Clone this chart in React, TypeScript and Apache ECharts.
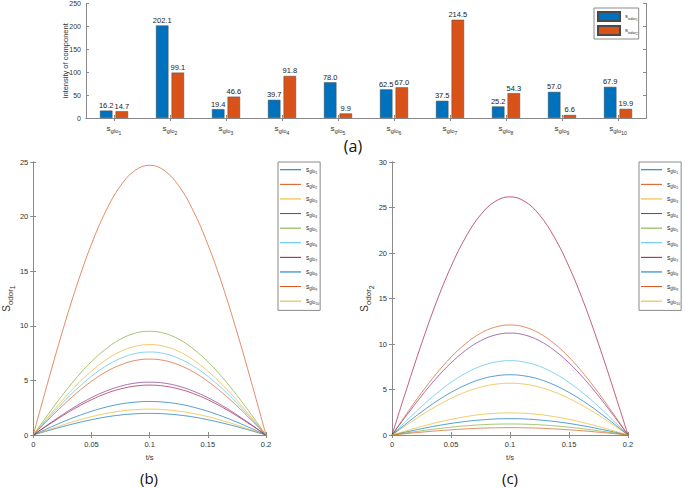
import React, { useEffect, useRef } from "react";
import * as echarts from "echarts";

const categories = ["sglo1", "sglo2", "sglo3", "sglo4", "sglo5", "sglo6", "sglo7", "sglo8", "sglo9", "sglo10"];
const odor1Values = [16.2, 202.1, 19.4, 39.7, 78.0, 62.5, 37.5, 25.2, 57.0, 67.9];
const odor2Values = [14.7, 99.1, 46.6, 91.8, 9.9, 67.0, 214.5, 54.3, 6.6, 19.9];

const tValues = [0, 0.0125, 0.025, 0.0375, 0.05, 0.0625, 0.075, 0.0875, 0.1, 0.1125, 0.125, 0.1375, 0.15, 0.1625, 0.175, 0.1875, 0.2];

// S_odor1 curves (panel b)
const b_glo1 = [0, 0.39, 0.76, 1.1, 1.4, 1.65, 1.83, 1.94, 1.98, 1.94, 1.83, 1.65, 1.4, 1.1, 0.76, 0.39, 0];
const b_glo2 = [0, 4.82, 9.45, 13.73, 17.46, 20.53, 22.82, 24.23, 24.7, 24.23, 22.82, 20.53, 17.46, 13.73, 9.45, 4.82, 0];
const b_glo3 = [0, 0.46, 0.91, 1.32, 1.68, 1.97, 2.19, 2.32, 2.37, 2.32, 2.19, 1.97, 1.68, 1.32, 0.91, 0.46, 0];
const b_glo4 = [0, 0.94, 1.85, 2.69, 3.42, 4.02, 4.47, 4.75, 4.84, 4.75, 4.47, 4.02, 3.42, 2.69, 1.85, 0.94, 0];
const b_glo5 = [0, 1.85, 3.64, 5.28, 6.72, 7.89, 8.78, 9.32, 9.5, 9.32, 8.78, 7.89, 6.72, 5.28, 3.64, 1.85, 0];
const b_glo6 = [0, 1.48, 2.91, 4.23, 5.37, 6.32, 7.02, 7.46, 7.6, 7.46, 7.02, 6.32, 5.37, 4.23, 2.91, 1.48, 0];
const b_glo7 = [0, 0.89, 1.75, 2.54, 3.23, 3.8, 4.22, 4.48, 4.57, 4.48, 4.22, 3.8, 3.23, 2.54, 1.75, 0.89, 0];
const b_glo8 = [0, 0.6, 1.18, 1.71, 2.17, 2.55, 2.84, 3.01, 3.07, 3.01, 2.84, 2.55, 2.17, 1.71, 1.18, 0.6, 0];
const b_glo9 = [0, 1.36, 2.66, 3.86, 4.91, 5.78, 6.42, 6.82, 6.95, 6.82, 6.42, 5.78, 4.91, 3.86, 2.66, 1.36, 0];
const b_glo10 = [0, 1.61, 3.17, 4.6, 5.85, 6.88, 7.65, 8.12, 8.28, 8.12, 7.65, 6.88, 5.85, 4.6, 3.17, 1.61, 0];

// S_odor2 curves (panel c)
const c_glo1 = [0, 0.35, 0.69, 1.0, 1.27, 1.49, 1.65, 1.76, 1.79, 1.76, 1.65, 1.49, 1.27, 1.0, 0.69, 0.35, 0];
const c_glo2 = [0, 2.36, 4.63, 6.72, 8.55, 10.05, 11.17, 11.86, 12.09, 11.86, 11.17, 10.05, 8.55, 6.72, 4.63, 2.36, 0];
const c_glo3 = [0, 1.11, 2.18, 3.16, 4.02, 4.73, 5.26, 5.58, 5.69, 5.58, 5.26, 4.73, 4.02, 3.16, 2.18, 1.11, 0];
const c_glo4 = [0, 2.18, 4.29, 6.23, 7.92, 9.31, 10.35, 10.99, 11.2, 10.99, 10.35, 9.31, 7.92, 6.23, 4.29, 2.18, 0];
const c_glo5 = [0, 0.24, 0.46, 0.67, 0.86, 1.01, 1.12, 1.19, 1.21, 1.19, 1.12, 1.01, 0.86, 0.67, 0.46, 0.24, 0];
const c_glo6 = [0, 1.59, 3.13, 4.54, 5.78, 6.79, 7.55, 8.01, 8.17, 8.01, 7.55, 6.79, 5.78, 4.54, 3.13, 1.59, 0];
const c_glo7 = [0, 5.1, 10.02, 14.55, 18.5, 21.75, 24.18, 25.67, 26.17, 25.67, 24.18, 21.75, 18.5, 14.55, 10.02, 5.1, 0];
const c_glo8 = [0, 1.29, 2.54, 3.68, 4.68, 5.5, 6.12, 6.49, 6.62, 6.49, 6.12, 5.5, 4.68, 3.68, 2.54, 1.29, 0];
const c_glo9 = [0, 0.16, 0.31, 0.45, 0.57, 0.67, 0.75, 0.79, 0.81, 0.79, 0.75, 0.67, 0.57, 0.45, 0.31, 0.16, 0];
const c_glo10 = [0, 0.47, 0.93, 1.35, 1.72, 2.02, 2.25, 2.38, 2.43, 2.38, 2.25, 2.02, 1.72, 1.35, 0.93, 0.47, 0];

const bCurves = [b_glo1, b_glo2, b_glo3, b_glo4, b_glo5, b_glo6, b_glo7, b_glo8, b_glo9, b_glo10];
const cCurves = [c_glo1, c_glo2, c_glo3, c_glo4, c_glo5, c_glo6, c_glo7, c_glo8, c_glo9, c_glo10];

const yTicksA = [0, 250, 50];
const yTicksB = [0, 25, 5];
const yTicksC = [0, 30, 5];
const xTicksT = [0, 0.2, 0.05];

const lineColors = ["#0072BD", "#D95319", "#EDB120", "#7E2F8E", "#77AC30", "#4DBEEE", "#A2142F", "#0072BD", "#D95319", "#EDB120"];

const FONT = "Liberation Sans";
const AXIS_COLOR = "#8a8a8a";
const TEXT_COLOR = "#333";

const subRich = (base: number) => ({
  b: { fontSize: base, fontFamily: FONT, color: TEXT_COLOR, verticalAlign: "top", lineHeight: base + 1 },
  s: { fontSize: base - 2, fontFamily: FONT, color: TEXT_COLOR, verticalAlign: "top", lineHeight: base - 1, padding: [Math.round(base * 0.45), 0, 0, 0] },
  ss: { fontSize: base - 3, fontFamily: FONT, color: TEXT_COLOR, verticalAlign: "top", lineHeight: base - 2, padding: [Math.round(base * 0.8), 0, 0, 0] },
});

const fmtSub = (main: string, sub: string, idx: string) => `{b|${main}}{s|${sub}}{ss|${idx}}`;

export default function App() {
  const ref = useRef<HTMLDivElement>(null);
  useEffect(() => {
    document.body.style.margin = "0";
    if (!ref.current) return;
    const chart = echarts.init(ref.current, null, { renderer: "svg" });

    const grids = [
      { left: 86, top: 3, width: 560, height: 115 },
      { left: 31, top: 162, width: 235, height: 273 },
      { left: 392, top: 162, width: 236, height: 273 },
    ];

    const axisLine = { show: true, lineStyle: { color: AXIS_COLOR, width: 1 } };
    const tickIn = { show: true, inside: true, length: 3, lineStyle: { color: AXIS_COLOR } };
    const lbl = { fontSize: 7.5, fontFamily: FONT, color: TEXT_COLOR };

    const xAxes: any[] = [
      {
        type: "category", gridIndex: 0, data: categories, position: "bottom",
        axisLine, axisTick: { ...tickIn, alignWithLabel: true, interval: 0 },
        axisLabel: { margin: 6, interval: 0, formatter: (v: string) => fmtSub("s", "glo", v.replace("sglo", "")), rich: subRich(8) },
        splitLine: { show: false },
      },
      {
        type: "category", gridIndex: 0, data: categories, position: "top",
        axisLine, axisTick: { ...tickIn, alignWithLabel: true, interval: 0 }, axisLabel: { show: false }, splitLine: { show: false },
      },
    ];
    const yAxes: any[] = [
      {
        type: "value", gridIndex: 0, min: yTicksA[0], max: yTicksA[1], interval: yTicksA[2], position: "left",
        axisLine, axisTick: tickIn, axisLabel: { ...lbl, fontSize: 7, margin: 5 }, splitLine: { show: false },
        name: "intensity of component", nameLocation: "middle", nameGap: 17, nameRotate: 90, nameMoveOverlap: false,
        nameTextStyle: { fontSize: 7.5, fontFamily: FONT, color: TEXT_COLOR },
      },
      {
        type: "value", gridIndex: 0, min: yTicksA[0], max: yTicksA[1], interval: yTicksA[2], position: "right",
        axisLine, axisTick: tickIn, axisLabel: { show: false }, splitLine: { show: false },
      },
    ];

    [1, 2].forEach((g, k) => {
      const yT = k === 0 ? yTicksB : yTicksC;
      xAxes.push({
        type: "value", gridIndex: g, min: xTicksT[0], max: xTicksT[1], interval: xTicksT[2], position: "bottom",
        axisLine, axisTick: tickIn, axisLabel: { ...lbl, margin: 5 }, splitLine: { show: false },
        name: "t/s", nameLocation: "middle", nameGap: 18, nameTextStyle: { fontSize: 7.5, fontFamily: FONT, color: TEXT_COLOR },
      });
      xAxes.push({
        type: "value", gridIndex: g, min: xTicksT[0], max: xTicksT[1], interval: xTicksT[2], position: "top",
        axisLine, axisTick: tickIn, axisLabel: { show: false }, splitLine: { show: false },
      });
      yAxes.push({
        type: "value", gridIndex: g, min: yT[0], max: yT[1], interval: yT[2], position: "left",
        axisLine, axisTick: tickIn, axisLabel: { ...lbl, margin: 5 }, splitLine: { show: false },
        name: fmtSub("S", "odor", String(k + 1)), nameLocation: "middle", nameGap: k === 0 ? 17 : 19, nameRotate: 90,
        nameTextStyle: { rich: subRich(10) },
      });
      yAxes.push({
        type: "value", gridIndex: g, min: yT[0], max: yT[1], interval: yT[2], position: "right",
        axisLine, axisTick: tickIn, axisLabel: { show: false }, splitLine: { show: false },
      });
    });

    const barLabel = {
      show: true, position: "top", distance: 1, fontSize: 7.5, fontFamily: FONT, color: "#222",
      formatter: (p: any) => Number(p.value).toFixed(1),
    };

    const series: any[] = [
      {
        name: "odor1", type: "bar", xAxisIndex: 0, yAxisIndex: 0, data: odor1Values,
        barWidth: 12.5, barGap: "25%",
        itemStyle: { color: "#0072BD", borderColor: "#4a4a4a", borderWidth: 0.5 }, label: barLabel,
      },
      {
        name: "odor2", type: "bar", xAxisIndex: 0, yAxisIndex: 0, data: odor2Values,
        barWidth: 12.5, barGap: "25%",
        itemStyle: { color: "#D95319", borderColor: "#4a4a4a", borderWidth: 0.5 }, label: barLabel,
      },
    ];

    [bCurves, cCurves].forEach((curves, k) => {
      curves.forEach((arr, i) => {
        series.push({
          name: categories[i], type: "line", xAxisIndex: 2 + k * 2, yAxisIndex: 2 + k * 2,
          data: tValues.map((t, j) => [t, arr[j]]), smooth: 0.4, symbol: "none",
          lineStyle: { color: lineColors[i], width: 0.9, opacity: 0.75 }, itemStyle: { color: lineColors[i] },
        });
      });
    });

    const legendBase = {
      orient: "vertical", borderColor: "#8a8a8a", borderWidth: 1, backgroundColor: "#fff",
      borderRadius: 0, selectedMode: false,
    };

    chart.setOption({
      animation: false,
      backgroundColor: "#fff",
      grid: grids,
      xAxis: xAxes,
      yAxis: yAxes,
      series,
      legend: [
        {
          ...legendBase, left: 594, top: 8, padding: [3, 1, 3, 3], itemGap: 3,
          itemWidth: 22, itemHeight: 9, icon: "rect",
          data: ["odor1", "odor2"],
          formatter: (n: string) => fmtSub("s", "odor", n.replace("odor", "")),
          textStyle: { rich: subRich(6) },
        },
        {
          ...legendBase, left: 278, top: 162, padding: [4, 1, 4, 2], itemGap: 5.6,
          itemWidth: 21, itemHeight: 1, icon: "rect",
          data: categories,
          formatter: (n: string) => fmtSub("s", "glo", n.replace("sglo", "")),
          textStyle: { rich: subRich(6.5) },
        },
        {
          ...legendBase, left: 639, top: 162, padding: [4, 1, 4, 2], itemGap: 5.6,
          itemWidth: 21, itemHeight: 1, icon: "rect",
          data: categories,
          formatter: (n: string) => fmtSub("s", "glo", n.replace("sglo", "")),
          textStyle: { rich: subRich(6.5) },
        },
      ],
      graphic: [
        { type: "text", x: 353, y: 146, style: { text: "(a)", fontSize: 16, fontFamily: "Open Sans", fill: "#111", align: "center", verticalAlign: "middle" } },
        { type: "text", x: 149, y: 478, style: { text: "(b)", fontSize: 15, fontFamily: "Open Sans", fill: "#111", align: "center", verticalAlign: "middle" } },
        { type: "text", x: 510, y: 478, style: { text: "(c)", fontSize: 15, fontFamily: "Open Sans", fill: "#111", align: "center", verticalAlign: "middle" } },
      ],
    });
    return () => chart.dispose();
  }, []);
  return <div ref={ref} style={{ width: 685, height: 488 }} />;
}
